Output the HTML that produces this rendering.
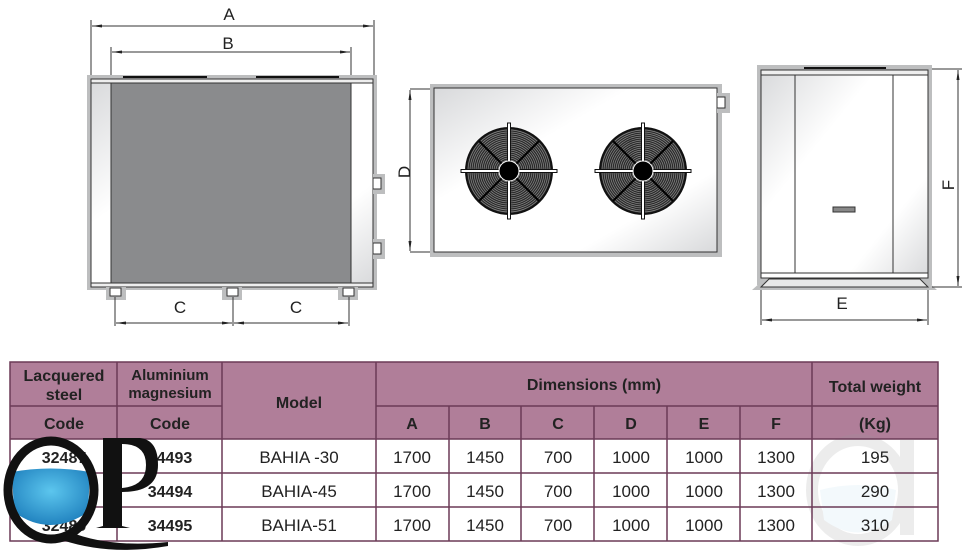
<!DOCTYPE html>
<html><head><meta charset="utf-8"><style>
html,body{margin:0;padding:0;background:#fff;}
svg{display:block;}
text{font-family:"Liberation Sans",sans-serif;}
</style></head><body>
<svg width="968" height="551" viewBox="0 0 968 551" xmlns="http://www.w3.org/2000/svg">
<defs>
<linearGradient id="sh" x1="0" y1="0" x2="1" y2="1">
<stop offset="0" stop-color="#d8d9db"/><stop offset="0.35" stop-color="#fff"/><stop offset="0.75" stop-color="#fff"/><stop offset="1" stop-color="#d8d9db"/>
</linearGradient>
<marker id="ar" markerWidth="10" markerHeight="6" refX="10" refY="3" orient="auto-start-reverse" markerUnits="userSpaceOnUse"><path d="M0,1.5 L10,3 L0,4.5 z" fill="#222"/></marker>
<radialGradient id="water" cx="0.5" cy="0.4" r="0.7"><stop offset="0" stop-color="#5cc6ee"/><stop offset="1" stop-color="#1878b8"/></radialGradient>
</defs>

<!-- LEFT VIEW -->
<g stroke-width="1">
<rect x="87" y="75" width="290" height="215" fill="#bdbebf"/>
<rect x="91" y="79" width="282" height="208" fill="url(#sh)" stroke="#333"/>
<rect x="91" y="79" width="282" height="4" fill="#eee" stroke="#333"/>
<rect x="111" y="83" width="240" height="200" fill="#8a8b8d" stroke="#333"/>
<rect x="91" y="283" width="282" height="4" fill="#eee" stroke="#333"/>
<line x1="123" y1="77" x2="207" y2="77" stroke="#111" stroke-width="2"/>
<line x1="256" y1="77" x2="339" y2="77" stroke="#111" stroke-width="2"/>
<rect x="373" y="174" width="12" height="20" fill="#bdbebf"/>
<rect x="373" y="178" width="8" height="11" fill="#fff" stroke="#333"/>
<rect x="373" y="239" width="12" height="20" fill="#bdbebf"/>
<rect x="373" y="243" width="8" height="11" fill="#fff" stroke="#333"/>
<rect x="106" y="287" width="20" height="13" fill="#bdbebf"/>
<rect x="110" y="288" width="11" height="8" fill="#fff" stroke="#333"/>
<rect x="222" y="287" width="20" height="13" fill="#bdbebf"/>
<rect x="227" y="288" width="11" height="8" fill="#fff" stroke="#333"/>
<rect x="338" y="287" width="20" height="13" fill="#bdbebf"/>
<rect x="343" y="288" width="11" height="8" fill="#fff" stroke="#333"/>
</g>
<g stroke="#333" stroke-width="1" fill="none">
<line x1="91" y1="20" x2="91" y2="75"/><line x1="374" y1="20" x2="374" y2="75"/>
<line x1="92" y1="26" x2="373" y2="26" marker-start="url(#ar)" marker-end="url(#ar)"/>
<line x1="111" y1="47" x2="111" y2="75"/><line x1="351" y1="47" x2="351" y2="75"/>
<line x1="112" y1="52" x2="350" y2="52" marker-start="url(#ar)" marker-end="url(#ar)"/>
<line x1="115" y1="297" x2="115" y2="326"/><line x1="233" y1="297" x2="233" y2="326"/><line x1="349" y1="297" x2="349" y2="326"/>
<line x1="116" y1="323" x2="232" y2="323" marker-start="url(#ar)" marker-end="url(#ar)"/>
<line x1="234" y1="323" x2="348" y2="323" marker-start="url(#ar)" marker-end="url(#ar)"/>
</g>
<g font-size="17" fill="#222" text-anchor="middle">
<text x="229" y="20">A</text><text x="228" y="49">B</text>
<text x="180" y="313">C</text><text x="296" y="313">C</text>
</g>

<!-- MIDDLE VIEW -->
<rect x="430" y="84" width="292" height="173" fill="#bdbebf"/>
<rect x="434" y="88" width="283" height="164" fill="url(#sh)" stroke="#333"/>
<rect x="717" y="93" width="13" height="20" fill="#bdbebf"/>
<rect x="717" y="97" width="8" height="11" fill="#fff" stroke="#333"/>
<g stroke="#333" fill="none">
<line x1="410" y1="89" x2="430" y2="89"/><line x1="410" y1="252" x2="430" y2="252"/>
<line x1="410" y1="90" x2="410" y2="251" marker-start="url(#ar)" marker-end="url(#ar)"/>
</g>
<text x="0" y="0" font-size="17" fill="#222" text-anchor="middle" transform="translate(410,172) rotate(-90)">D</text>

<g id="fan">
<circle cx="509" cy="171" r="43" fill="#2a2a2a" stroke="#111" stroke-width="2"/>
<g fill="none" stroke="#8a8a8a" stroke-width="0.7">
<circle cx="509" cy="171" r="41"/><circle cx="509" cy="171" r="39"/><circle cx="509" cy="171" r="37"/><circle cx="509" cy="171" r="35"/><circle cx="509" cy="171" r="33"/><circle cx="509" cy="171" r="31"/><circle cx="509" cy="171" r="29"/><circle cx="509" cy="171" r="27"/><circle cx="509" cy="171" r="25"/><circle cx="509" cy="171" r="23"/><circle cx="509" cy="171" r="21"/><circle cx="509" cy="171" r="19"/><circle cx="509" cy="171" r="17"/><circle cx="509" cy="171" r="15"/><circle cx="509" cy="171" r="13"/><circle cx="509" cy="171" r="11"/>
</g>
<g stroke="#000" stroke-width="2">
<line x1="479" y1="141" x2="539" y2="201"/><line x1="539" y1="141" x2="479" y2="201"/>
</g>
<rect x="461" y="169.5" width="96" height="3" fill="#fff" stroke="#111" stroke-width="1"/>
<rect x="507.5" y="123" width="3" height="96" fill="#fff" stroke="#111" stroke-width="1"/>
<circle cx="509" cy="171" r="10" fill="#000" stroke="#fff" stroke-width="1"/>
</g>
<use href="#fan" x="134"/>

<!-- RIGHT VIEW -->
<rect x="757" y="65" width="175" height="220" fill="#bdbebf"/>
<polygon points="752,290 937,290 928,282 761,282" fill="#bdbebf"/>
<rect x="761" y="70" width="167" height="208" fill="url(#sh)" stroke="#333"/>
<rect x="761" y="70" width="167" height="5" fill="#eee" stroke="#333"/>
<line x1="795" y1="75" x2="795" y2="273" stroke="#333"/>
<line x1="893" y1="75" x2="893" y2="273" stroke="#333"/>
<rect x="761" y="273" width="167" height="5" fill="#fff" stroke="#333"/>
<polygon points="761,287 928,287 920,279 769,279" fill="#e8e8e8" stroke="#333"/>
<line x1="804" y1="68" x2="886" y2="68" stroke="#111" stroke-width="2"/>
<rect x="833" y="207" width="22" height="5" fill="#888" stroke="#333"/>
<g stroke="#333" fill="none">
<line x1="932" y1="69" x2="962" y2="69"/><line x1="932" y1="287" x2="962" y2="287"/>
<line x1="958" y1="70" x2="958" y2="286" marker-start="url(#ar)" marker-end="url(#ar)"/>
<line x1="761" y1="290" x2="761" y2="325"/><line x1="928" y1="290" x2="928" y2="325"/>
<line x1="762" y1="320" x2="927" y2="320" marker-start="url(#ar)" marker-end="url(#ar)"/>
</g>
<text x="0" y="0" font-size="17" fill="#222" text-anchor="middle" transform="translate(954,185) rotate(-90)">F</text>
<text x="842" y="309" font-size="17" fill="#222" text-anchor="middle">E</text>

<!-- TABLE -->
<rect x="10" y="362" width="928" height="77" fill="#b07e99"/>
<rect x="10" y="439" width="928" height="102" fill="#fff"/>
<g opacity="0.18">
<ellipse cx="858" cy="490" rx="46" ry="50" fill="none" stroke="#999" stroke-width="12"/>
<path d="M820,490 Q858,480 896,490 L892,520 Q858,545 824,520 z" fill="#bfe0f0"/>
<rect x="900" y="440" width="14" height="95" fill="#999"/>
</g>
<g stroke="#6b3a57" stroke-width="1.5" fill="none">
<rect x="10" y="362" width="928" height="179"/>
<line x1="10" y1="406" x2="222" y2="406"/>
<line x1="376" y1="406" x2="938" y2="406"/>
<line x1="10" y1="439" x2="938" y2="439"/>
<line x1="10" y1="473" x2="938" y2="473"/>
<line x1="10" y1="507" x2="938" y2="507"/>
<line x1="117" y1="362" x2="117" y2="541"/>
<line x1="222" y1="362" x2="222" y2="541"/>
<line x1="376" y1="362" x2="376" y2="541"/>
<line x1="449" y1="406" x2="449" y2="541"/>
<line x1="521" y1="406" x2="521" y2="541"/>
<line x1="594" y1="406" x2="594" y2="541"/>
<line x1="667" y1="406" x2="667" y2="541"/>
<line x1="740" y1="406" x2="740" y2="541"/>
<line x1="812" y1="362" x2="812" y2="541"/>
</g>
<g font-size="16" font-weight="bold" fill="#222" text-anchor="middle">
<text x="64" y="381">Lacquered</text><text x="64" y="400">steel</text>
<text x="170" y="380" font-size="15">Aluminium</text><text x="170" y="398" font-size="15">magnesium</text>
<text x="64" y="429">Code</text><text x="170" y="429">Code</text>
<text x="299" y="408">Model</text>
<text x="594" y="390">Dimensions  (mm)</text>
<text x="875" y="392">Total weight</text>
<text x="412" y="429">A</text><text x="485" y="429">B</text><text x="558" y="429">C</text><text x="631" y="429">D</text><text x="704" y="429">E</text><text x="776" y="429">F</text>
<text x="875" y="429">(Kg)</text>
<text x="64" y="463">32487</text><text x="170" y="463">34493</text>
<text x="64" y="497">32488</text><text x="170" y="497">34494</text>
<text x="64" y="531">32489</text><text x="170" y="531">34495</text>
</g>
<g font-size="17" fill="#222" text-anchor="middle">
<text x="299" y="463">BAHIA -30</text><text x="299" y="497">BAHIA-45</text><text x="299" y="531">BAHIA-51</text>
<text x="412" y="463">1700</text><text x="485" y="463">1450</text><text x="558" y="463">700</text><text x="631" y="463">1000</text><text x="704" y="463">1000</text><text x="776" y="463">1300</text><text x="875" y="463">195</text>
<text x="412" y="497">1700</text><text x="485" y="497">1450</text><text x="558" y="497">700</text><text x="631" y="497">1000</text><text x="704" y="497">1000</text><text x="776" y="497">1300</text><text x="875" y="497">290</text>
<text x="412" y="531">1700</text><text x="485" y="531">1450</text><text x="558" y="531">700</text><text x="631" y="531">1000</text><text x="704" y="531">1000</text><text x="776" y="531">1300</text><text x="875" y="531">310</text>
</g>

<!-- QP watermark left -->
<path d="M12,472 Q50,465 90,472 L88,512 Q50,538 14,512 z" fill="url(#water)"/>
<ellipse cx="51" cy="490" rx="43" ry="49" fill="none" stroke="#111" stroke-width="9"/>
<path d="M70,532 Q110,548 168,542 L168,546 Q110,556 62,540 z" fill="#111"/>
<path d="M103,438 L140,438 Q158,440 158,465 Q158,492 122,492 L122,488 Q146,486 146,465 Q146,444 122,444 L122,526 L130,528 L96,528 L103,526 z" fill="#111"/>
<rect x="104" y="440" width="17" height="88" fill="#111"/>
</svg>
</body></html>
